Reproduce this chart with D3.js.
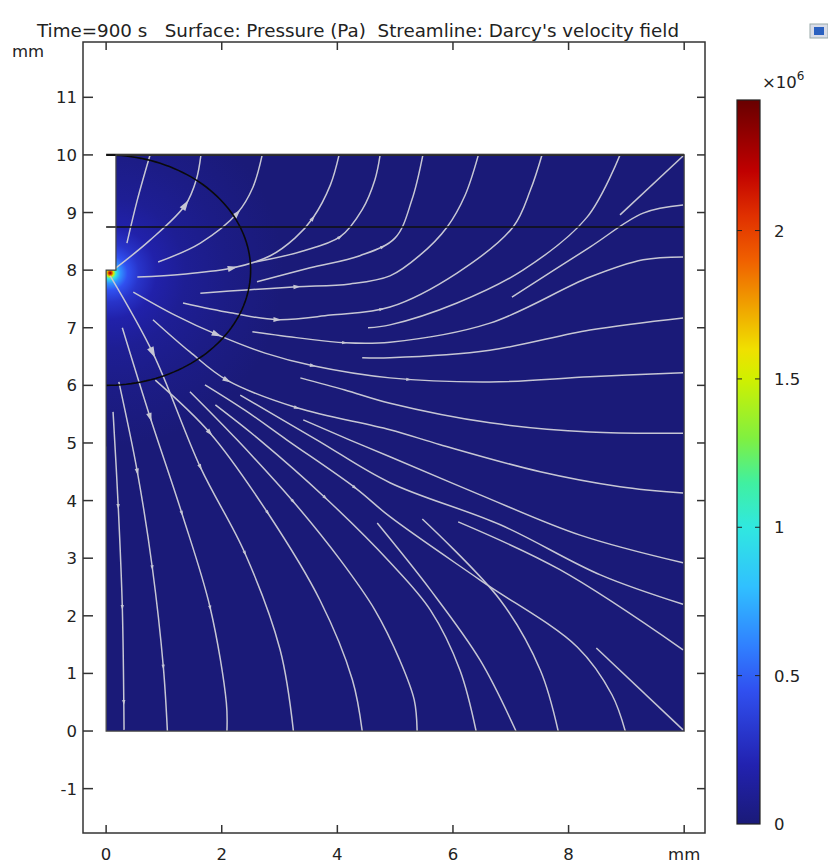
<!DOCTYPE html>
<html><head><meta charset="utf-8">
<script src="https://cdn.jsdelivr.net/npm/d3@7"></script>
<style>body{margin:0;background:#fff;overflow:hidden}text{font-family:"DejaVu Sans",sans-serif;fill:#222;white-space:pre}</style>
</head><body><svg id="c" width="828" height="863"></svg>
<script>
const xTicks=[0,2,4,6,8,10];
const yTicks=[-1,0,1,2,3,4,5,6,7,8,9,10,11];
const cbTicks=[0,0.5,1,1.5,2];
const domainOutline=[[0,0],[10,0],[10,10],[0.17,10],[0.17,8],[0,8]];
const layerLines=[10,8.75];
const arcCenter=[0,8], arcRadii=[2.5,2];
const source=[0.07,7.95];
const pressureMax=2.44;
const cbValues=[0,0.2,0.45,0.6,0.8,1.0,1.15,1.3,1.5,1.6,1.75,1.9,2.05,2.2,2.44];
const cbColors=["#1a1a78","#2222b0","#3050f0","#3080ff","#30c0ff","#30e8e0","#40f0a0","#80f040","#d0f000","#f0e000","#f0a000","#f06000","#e03000","#c00000","#680000"];
const profR=[0,0.03,0.06,0.1,0.18,0.3,0.5,0.8,1.3,2.0,3.0];
const profP=[2.4,2.0,1.5,1.0,0.65,0.45,0.3,0.18,0.1,0.05,0.0];
// streamlines in mm: p = points (from source outward), a = arrow positions
const streamlines=[
 {p:[[0.36,8.47],[0.54,9.22],[0.76,10]],a:[]},
 {p:[[0.12,8.0],[0.76,8.52],[1.37,9.13],[1.56,9.57],[1.64,10]],a:[[1.37,9.13]]},
 {p:[[0.90,8.14],[1.63,8.47],[2.27,8.99],[2.54,9.44],[2.70,10]],a:[[2.27,8.99]]},
 {p:[[0.54,7.88],[1.33,7.93],[2.20,8.04],[2.84,8.25],[3.27,8.56],[3.58,8.91],[3.88,9.48],[4.03,10]],a:[[2.20,8.04],[3.58,8.91]]},
 {p:[[2.58,8.14],[3.36,8.32],[4.05,8.58],[4.43,9.05],[4.65,9.57],[4.74,10]],a:[[4.05,8.58]]},
 {p:[[2.61,7.80],[3.53,8.04],[4.39,8.25],[5.0,8.56],[5.29,9.22],[5.48,10]],a:[[4.76,8.45]]},
 {p:[[1.63,7.60],[2.49,7.66],[3.30,7.71],[4.22,7.76],[4.91,7.90],[5.43,8.26],[5.90,8.75],[6.21,9.30],[6.44,10]],a:[[3.30,7.71]]},
 {p:[[1.33,7.43],[2.15,7.26],[2.96,7.14],[3.88,7.22],[4.91,7.36],[6.07,7.95],[7.04,8.75],[7.34,9.39],[7.54,10]],a:[[2.96,7.14],[4.76,7.33]]},
 {p:[[4.53,7.00],[4.91,7.05],[6.07,7.43],[7.21,8.0],[8.32,8.92],[8.89,10]],a:[]},
 {p:[[8.89,8.96],[9.98,9.98]],a:[]},
 {p:[[7.02,7.53],[8.37,8.40],[9.29,8.99],[9.98,9.13]],a:[]},
 {p:[[2.53,6.93],[3.36,6.82],[4.13,6.74],[4.91,6.75],[6.64,7.08],[8.37,7.88],[9.29,8.18],[9.98,8.23]],a:[[4.13,6.74]]},
 {p:[[4.43,6.48],[4.91,6.48],[6.64,6.61],[8.37,6.96],[9.98,7.17]],a:[]},
 {p:[[0.47,7.62],[1.19,7.22],[1.92,6.88],[2.75,6.56],[3.58,6.34],[4.91,6.13],[6.64,6.06],[8.37,6.15],[9.98,6.22]],a:[[1.92,6.88],[3.58,6.34],[5.24,6.1]]},
 {p:[[3.36,6.13],[4.13,5.92],[4.91,5.69],[6.64,5.35],[8.37,5.19],[9.98,5.17]],a:[]},
 {p:[[0.81,7.14],[1.45,6.58],[2.09,6.09],[3.30,5.61],[4.91,5.23],[5.78,4.97],[7.51,4.50],[8.89,4.24],[9.98,4.13]],a:[[2.09,6.09],[3.30,5.61]]},
 {p:[[3.41,5.40],[4.22,5.05],[4.91,4.76],[6.47,4.10],[8.20,3.40],[9.98,2.92]],a:[]},
 {p:[[2.32,5.83],[3.65,5.05],[4.91,4.31],[6.82,3.58],[8.55,2.71],[9.98,2.20]],a:[]},
 {p:[[6.09,3.63],[7.85,2.80],[9.98,1.41]],a:[]},
 {p:[[8.48,1.44],[9.98,0.02]],a:[]},
 {p:[[1.71,6.01],[2.40,5.57],[3.13,5.05],[4.31,4.22],[4.91,3.72],[6.47,2.62],[8.15,1.46],[8.75,0.63],[8.98,0]],a:[[4.31,4.22]]},
 {p:[[5.47,3.68],[6.82,2.27],[7.51,1.06],[7.82,0]],a:[]},
 {p:[[4.69,3.61],[5.61,2.45],[6.47,1.23],[7.09,0]],a:[]},
 {p:[[1.89,5.66],[2.66,5.05],[3.79,4.05],[4.91,2.93],[5.61,2.10],[6.12,1.06],[6.40,0]],a:[[3.79,4.05]]},
 {p:[[1.45,5.89],[2.27,5.05],[3.24,3.98],[4.05,2.97],[4.65,2.10],[5.08,1.23],[5.33,0.54],[5.38,0]],a:[[3.24,3.98]]},
 {p:[[0.85,6.09],[1.80,5.17],[2.80,3.78],[3.70,2.27],[4.26,0.89],[4.43,0]],a:[[1.80,5.17],[2.80,3.78]]},
 {p:[[0.07,7.90],[0.81,6.56],[1.63,4.58],[2.40,3.09],[3.01,1.41],[3.24,0]],a:[[0.81,6.56],[1.63,4.58],[2.40,3.09]]},
 {p:[[0.28,7.0],[0.76,5.45],[1.31,3.78],[1.80,2.14],[2.08,0.49],[2.09,0]],a:[[0.76,5.45],[1.31,3.78],[1.80,2.14]]},
 {p:[[0.22,6.06],[0.54,4.50],[0.80,2.83],[0.99,1.11],[1.06,0]],a:[[0.54,4.5],[0.80,2.83],[0.99,1.11]]},
 {p:[[0.12,5.54],[0.21,3.89],[0.28,2.15],[0.31,0.02]],a:[[0.21,3.89],[0.28,2.15],[0.30,0.49]]}
];

const svg=d3.select("#c");
const x=d3.scaleLinear().domain([-0.40,10.36]).range([83,705]);
const y=d3.scaleLinear().domain([-1.77,11.96]).range([833,42]);
const col=d3.scaleLinear().domain(cbValues).range(cbColors).interpolate(d3.interpolateRgb).clamp(true);
const defs=svg.append("defs");
defs.append("clipPath").attr("id","dom").append("polygon")
  .attr("points",domainOutline.map(d=>[x(d[0]),y(d[1])].join(",")).join(" "));
const rMax=profR[profR.length-1];
const rg=defs.append("radialGradient").attr("id","glow").attr("gradientUnits","userSpaceOnUse")
  .attr("cx",x(source[0])).attr("cy",y(source[1])).attr("r",x(rMax)-x(0));
profR.forEach((r,i)=>rg.append("stop").attr("offset",r/rMax).attr("stop-color",col(profP[i])));
const g=svg.append("g").attr("clip-path","url(#dom)");
g.append("rect").attr("x",x(0)).attr("y",y(10)).attr("width",x(10)-x(0)).attr("height",y(0)-y(10)).attr("fill",col(0));
g.append("circle").attr("cx",x(source[0])).attr("cy",y(source[1])).attr("r",x(rMax)-x(0)).attr("fill","url(#glow)");
const line=d3.line().x(d=>x(d[0])).y(d=>y(d[1])).curve(d3.curveCatmullRom.alpha(0.5));
const sg=g.append("g");
const SC="#c6c6d4";
streamlines.forEach(s=>{
  const path=sg.append("path").attr("d",line(s.p)).attr("fill","none").attr("stroke",SC).attr("stroke-width",1.5);
  const node=path.node(),L=node.getTotalLength();
  s.a.forEach(ap=>{
    const tx=x(ap[0]),ty=y(ap[1]);
    let best=0,bd=1e9;
    for(let l=0;l<=L;l+=1){const p=node.getPointAtLength(l);const d=(p.x-tx)**2+(p.y-ty)**2;if(d<bd){bd=d;best=l;}}
    const p=node.getPointAtLength(best),q=node.getPointAtLength(Math.min(L,best+2)),p0=node.getPointAtLength(Math.max(0,best-2));
    const ang=Math.atan2(q.y-p0.y,q.x-p0.x)*180/Math.PI;
    const unit=x(1)-x(0);
    const dist=Math.hypot((p.x-x(source[0]))/unit,(p.y-y(source[1]))/unit);
    const sz=Math.max(2.6,Math.min(6.5,7.6-1.2*dist));
    sg.append("path").attr("d",`M${sz},0L${-sz},${-sz*0.62}L${-sz},${sz*0.62}Z`)
      .attr("fill",SC).attr("transform",`translate(${p.x},${p.y}) rotate(${ang})`);
  });
});
const arcPts=d3.range(-90,90.1,2).map(a=>[arcCenter[0]+arcRadii[0]*Math.cos(a*Math.PI/180),arcCenter[1]+arcRadii[1]*Math.sin(a*Math.PI/180)]);
g.append("path").attr("d",d3.line().x(d=>x(d[0])).y(d=>y(d[1]))(arcPts)).attr("fill","none").attr("stroke","#0a0a0a").attr("stroke-width",1.6);
layerLines.forEach((v,i)=>svg.append("line").attr("x1",x(0)).attr("x2",x(10)).attr("y1",y(v)).attr("y2",y(v))
  .attr("stroke","#111").attr("stroke-width",i?1.6:2.2));
svg.append("polygon").attr("points",domainOutline.map(d=>[x(d[0]),y(d[1])].join(",")).join(" "))
  .attr("fill","none").attr("stroke","#444").attr("stroke-width",1.2);
svg.append("rect").attr("x",83).attr("y",42).attr("width",622).attr("height",791).attr("fill","none").attr("stroke","#333").attr("stroke-width",1.5);
const ax=svg.append("g").attr("stroke","#333").attr("stroke-width",1.5);
xTicks.forEach(v=>{ax.append("line").attr("x1",x(v)).attr("x2",x(v)).attr("y1",833).attr("y2",825);
 ax.append("line").attr("x1",x(v)).attr("x2",x(v)).attr("y1",42).attr("y2",50);});
yTicks.forEach(v=>{ax.append("line").attr("y1",y(v)).attr("y2",y(v)).attr("x1",83).attr("x2",93);
 ax.append("line").attr("y1",y(v)).attr("y2",y(v)).attr("x1",705).attr("x2",697);});
const FS=16.5;
xTicks.forEach(v=>svg.append("text").attr("x",x(v)).attr("y",860).attr("text-anchor","middle").attr("font-size",FS).text(v===10?"mm":v));
yTicks.forEach(v=>svg.append("text").attr("x",77).attr("y",y(v)+6).attr("text-anchor","end").attr("font-size",FS).text(v));
svg.append("text").attr("x",12).attr("y",57).attr("font-size",FS).text("mm");
svg.append("text").attr("x",37).attr("y",37).attr("font-size",17).attr("textLength",642).attr("lengthAdjust","spacingAndGlyphs")
  .text("Time=900 s   Surface: Pressure (Pa)  Streamline: Darcy's velocity field");
const cy=d3.scaleLinear().domain([0,pressureMax]).range([824,100]);
const lg=defs.append("linearGradient").attr("id","cb").attr("x1",0).attr("y1",1).attr("x2",0).attr("y2",0);
cbValues.forEach((v,i)=>lg.append("stop").attr("offset",v/pressureMax).attr("stop-color",cbColors[i]));
svg.append("rect").attr("x",737).attr("y",100).attr("width",23).attr("height",724).attr("fill","url(#cb)").attr("stroke","#222").attr("stroke-width",1.2);
cbTicks.forEach(v=>{ if(v>0){svg.append("line").attr("x1",737).attr("x2",742).attr("y1",cy(v)).attr("y2",cy(v)).attr("stroke","#222");
 svg.append("line").attr("x1",755).attr("x2",760).attr("y1",cy(v)).attr("y2",cy(v)).attr("stroke","#222");}
 svg.append("text").attr("x",774).attr("y",cy(v)+6).attr("font-size",FS).text(v);});
const t=svg.append("text").attr("x",762).attr("y",88).attr("font-size",FS).text("×10");
t.append("tspan").attr("dy",-8).attr("font-size",12).text("6");
svg.append("rect").attr("x",810).attr("y",24).attr("width",18).attr("height",14).attr("fill","#d8dce8").attr("stroke","#9aa").attr("stroke-width",1);
svg.append("rect").attr("x",814).attr("y",27).attr("width",10).attr("height",8).attr("fill","#2a60c0");
</script></body></html>
